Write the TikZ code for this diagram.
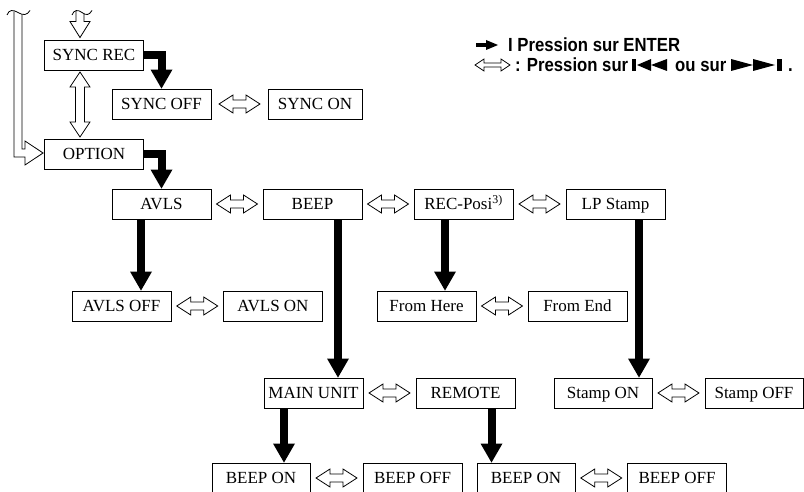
\documentclass[tikz,border=0pt]{standalone}
\usepackage{fontspec}
\setmainfont{Liberation Serif}
\newfontfamily\legfont[FakeStretch=0.88]{Liberation Sans}
\usetikzlibrary{calc}

\tikzset{
  menubox/.style={draw, line width=0.9pt, minimum width=99pt, minimum height=30pt,
    inner sep=0pt, text height=11.3pt, text depth=0pt, font=\fontsize{17}{17}\selectfont},
  shaft/.style={line width=8pt, line join=miter, line cap=butt},
  hollow/.style={draw, fill=white, line width=0.8pt, line join=miter},
  legtext/.style={anchor=west, inner sep=0pt, text height=13.6pt, text depth=0pt,
    font=\legfont\bfseries\fontsize{19}{19}\selectfont},
  hdarr/.pic={\draw[hollow] (-20.5,0) -- (-6.5,-9) -- (-6.5,-4) -- (6.5,-4) -- (6.5,-9)
      -- (20.5,0) -- (6.5,9) -- (6.5,4) -- (-6.5,4) -- (-6.5,9) -- cycle;}
}

\newcommand\blkdown[2]{%
  \draw[shaft] (#1) -- ($(#2)+(0,-18)$);
  \fill ($(#2)+(-11,-19)$) -- ($(#2)+(11,-19)$) -- (#2) -- cycle;}

\newcommand\hlink[2]{%
  \path (#1.east) -- (#2.west) coordinate[pos=0.5] (m-#1-#2);
  \pic at (m-#1-#2) {hdarr};}

\begin{document}
\begin{tikzpicture}[x=1pt,y=-1pt]
\useasboundingbox (0,0) rectangle (804,492);
\clip (0,0) rectangle (804,492);

% boxes
\node[menubox] (syncrec) at (94,55) {SYNC REC};
\node[menubox] (syncoff) at (161.5,104) {SYNC OFF};
\node[menubox, minimum width=94pt] (syncon) at (315,104) {SYNC ON};
\node[menubox] (option) at (94,154) {OPTION};
\node[menubox] (avls) at (161.5,204) {AVLS};
\node[menubox] (beep) at (312.5,204) {BEEP};
\node[menubox] (recposi) at (463.5,204) {REC-Posi\textsuperscript{3)}};
\node[menubox] (lpstamp) at (615.5,204) {LP Stamp};
\node[menubox] (avlsoff) at (121.5,306) {AVLS OFF};
\node[menubox] (avlson) at (273,306) {AVLS ON};
\node[menubox] (fromhere) at (426.5,306) {From Here};
\node[menubox] (fromend) at (577.5,306) {From End};
\node[menubox] (mainunit) at (313.5,393) {MAIN UNIT};
\node[menubox] (remote) at (465.5,393) {REMOTE};
\node[menubox, minimum width=98pt] (stampon) at (603,393) {Stamp ON};
\node[menubox, minimum width=98pt] (stampoff) at (754,393) {Stamp OFF};
\node[menubox, minimum width=98pt] (beepon1) at (261,478) {BEEP ON};
\node[menubox] (beepoff1) at (412.5,478) {BEEP OFF};
\node[menubox, minimum width=98pt] (beepon2) at (526,478) {BEEP ON};
\node[menubox] (beepoff2) at (677,478) {BEEP OFF};

% hollow double arrows
\hlink{syncoff}{syncon}
\hlink{avls}{beep}
\hlink{beep}{recposi}
\hlink{recposi}{lpstamp}
\hlink{avlsoff}{avlson}
\hlink{fromhere}{fromend}
\hlink{mainunit}{remote}
\hlink{stampon}{stampoff}
\hlink{beepon1}{beepoff1}
\hlink{beepon2}{beepoff2}

% vertical hollow double arrow SYNC REC <-> OPTION
\coordinate (vd) at ($(syncrec.south)!0.5!(option.north)+(-14,0)$);
\draw[hollow, shift={(vd)}] (0,-32.5) -- (-10,-17.5) -- (-4.5,-17.5) -- (-4.5,17.5)
  -- (-10,17.5) -- (0,32.5) -- (10,17.5) -- (4.5,17.5) -- (4.5,-17.5) -- (10,-17.5) -- cycle;

% top hollow arrow into SYNC REC
\coordinate (tt) at ($(syncrec.north)+(-14,-2)$);
\draw[line width=0.8pt, line join=miter, shift={(tt)}]
  (-4,-26.5) -- (-4,-16) -- (-10,-16) -- (0,0) -- (10,-16) -- (4,-16) -- (4,-23.5);
\draw[line width=0.8pt] (72,15) .. controls (74,9.5) and (78,9.5) .. (82,12.5)
  .. controls (86,15.5) and (89,15.5) .. (92,10.5);

% left loop into OPTION
\coordinate (lt) at ($(option.west)+(-1,-1)$);
\draw[line width=0.8pt, line join=miter]
  (14,11.5) -- (14,157) -- (25,157) -- (25,165) -- (lt) -- (25,141) -- (25,149)
  -- (22,149) -- (22,14.5);
\draw[line width=0.8pt] (7,15) .. controls (9,9.5) and (13,9.5) .. (18,12.5)
  .. controls (23,15.5) and (27,15.5) .. (30,10.5);

% black elbow arrows
\draw[shaft] (syncrec.east) -| ($(syncoff.north)+(0,-18)$);
\fill ($(syncoff.north)+(-11,-19)$) -- ($(syncoff.north)+(11,-19)$) -- (syncoff.north) -- cycle;
\draw[shaft] (option.east) -| ($(avls.north)+(0,-18)$);
\fill ($(avls.north)+(-11,-19)$) -- ($(avls.north)+(11,-19)$) -- (avls.north) -- cycle;

% black vertical arrows
\coordinate (s1) at ($(avls.south)+(-20.5,0)$);
\coordinate (e1) at (s1 |- avlsoff.north);
\blkdown{s1}{e1}
\coordinate (s2) at ($(beep.south)+(25.5,0)$);
\coordinate (e2) at (s2 |- mainunit.north);
\blkdown{s2}{e2}
\coordinate (s3) at ($(recposi.south)+(-18.5,0)$);
\coordinate (e3) at (s3 |- fromhere.north);
\blkdown{s3}{e3}
\coordinate (s4) at ($(lpstamp.south)+(23.5,0)$);
\coordinate (e4) at (s4 |- stampon.north);
\blkdown{s4}{e4}
\coordinate (s5) at ($(mainunit.south)+(-29.5,0)$);
\coordinate (e5) at (s5 |- beepon1.north);
\blkdown{s5}{e5}
\coordinate (s6) at ($(remote.south)+(26,0)$);
\coordinate (e6) at (s6 |- beepon2.north);
\blkdown{s6}{e6}

% legend
\draw[line width=3.5pt] (476,45) -- (488,45);
\fill (486,40) -- (498,45) -- (486,50) -- cycle;
\node[legtext] (leg1) at (508,45) {I Pression sur ENTER};

\draw[line width=0.8pt, line join=miter] (475,65) -- (484,59) -- (484,63) -- (501,63)
  -- (501,59) -- (510,65) -- (501,71) -- (501,67) -- (484,67) -- (484,71) -- cycle;
\node[legtext] (leg2) at (515,65) {: Pression sur};
\fill (632,59) rectangle (636,71);
\fill (651,59) -- (637,65) -- (651,71) -- cycle;
\fill (667,59) -- (651,65) -- (667,71) -- cycle;
\node[legtext] (leg3) at (675,65) {ou sur};
\fill (731,59) -- (753,65) -- (731,71) -- cycle;
\fill (753,59) -- (775,65) -- (753,71) -- cycle;
\fill (777,59) rectangle (782,71);
\node[legtext] (leg4) at (788,65) {.};
\end{tikzpicture}
\end{document}
